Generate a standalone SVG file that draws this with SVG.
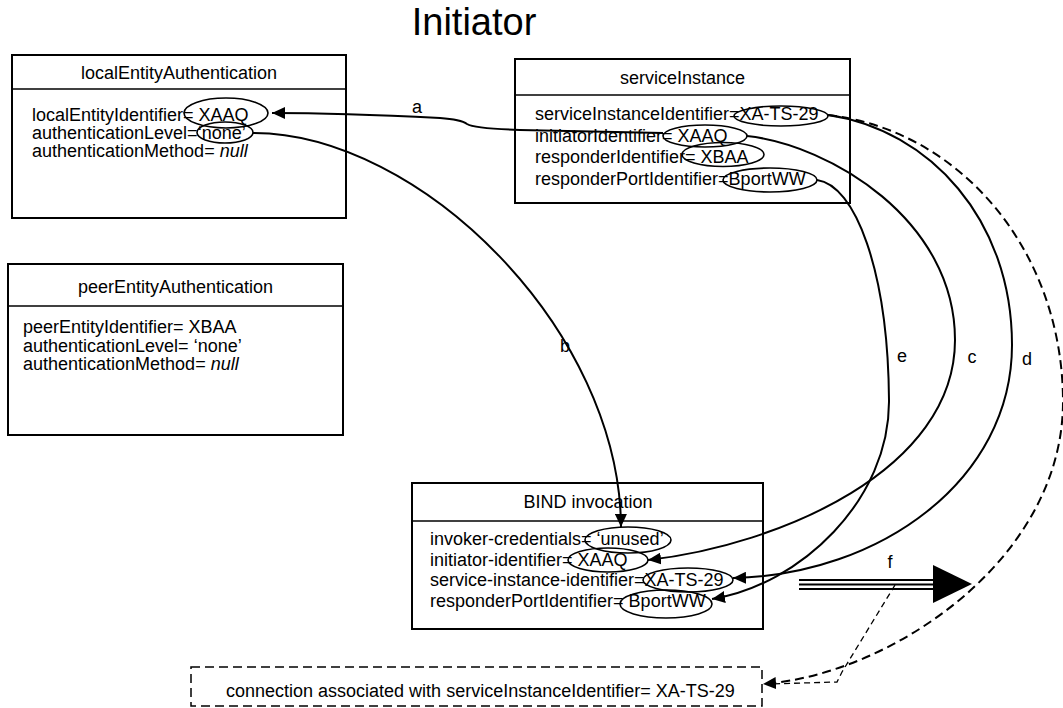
<svg xmlns="http://www.w3.org/2000/svg" width="1063" height="708" viewBox="0 0 1063 708">
<style>
.box{fill:#fff;stroke:#000;stroke-width:2}
.hdr{stroke:#000;stroke-width:1.3}
.t{font-family:"Liberation Sans",Arial,sans-serif;font-size:18px;fill:#000}
.m{text-anchor:middle}
.ov{fill:none;stroke:#000;stroke-width:1.6}
.conn{fill:none;stroke:#000;stroke-width:2}
.dash{stroke-dasharray:9 5}
.thin{fill:none;stroke:#000;stroke-width:1.3;stroke-dasharray:6 4}
</style>
<defs>
<marker id="ah" markerUnits="userSpaceOnUse" markerWidth="14" markerHeight="12" refX="13" refY="6" orient="auto">
<path d="M0,0 L13,6 L0,12 Z" fill="#000"/>
</marker>
</defs>
<rect width="1063" height="708" fill="#fff"/>
<text id="title" class="t m" x="474" y="35" style="font-size:38px">Initiator</text>

<g id="localEntityAuthentication">
<rect class="box" x="12" y="55" width="334" height="163"/>
<line class="hdr" x1="12" y1="89" x2="346" y2="89"/>
<text class="t m" x="179" y="79">localEntityAuthentication</text>
<text class="t" x="32" y="121">localEntityIdentifier= XAAQ</text>
<text class="t" x="32" y="139">authenticationLevel=‘none’</text>
<text class="t" x="32" y="157">authenticationMethod= <tspan font-style="italic">null</tspan></text>
<ellipse class="ov" cx="226" cy="113" rx="42" ry="15"/>
<ellipse class="ov" cx="225" cy="132.5" rx="28" ry="10.5"/>
</g>

<g id="serviceInstance">
<rect class="box" x="515" y="59" width="335" height="144"/>
<line class="hdr" x1="515" y1="95" x2="850" y2="95"/>
<text class="t m" x="682.5" y="84">serviceInstance</text>
<text class="t" x="535" y="120">serviceInstanceIdentifier=XA-TS-29</text>
<text class="t" x="535" y="141.5">initiatorIdentifier= XAAQ</text>
<text class="t" x="535" y="163">responderIdentifier= XBAA</text>
<text class="t" x="535" y="184.5">responderPortIdentifier=BportWW</text>
<ellipse class="ov" cx="781" cy="116" rx="47" ry="10"/>
<ellipse class="ov" cx="705" cy="136" rx="42" ry="11"/>
<ellipse class="ov" cx="723" cy="154.5" rx="41" ry="12"/>
<ellipse class="ov" cx="770" cy="180" rx="47" ry="12"/>
</g>

<g id="peerEntityAuthentication">
<rect class="box" x="8" y="264" width="335" height="171"/>
<line class="hdr" x1="8" y1="306" x2="343" y2="306"/>
<text class="t m" x="175.5" y="293">peerEntityAuthentication</text>
<text class="t" x="23" y="333">peerEntityIdentifier= XBAA</text>
<text class="t" x="23" y="351.5">authenticationLevel= ‘none’</text>
<text class="t" x="23" y="370">authenticationMethod= <tspan font-style="italic">null</tspan></text>
</g>

<g id="bindInvocation">
<rect class="box" x="412" y="483" width="351" height="146"/>
<line class="hdr" x1="412" y1="521" x2="763" y2="521"/>
<text class="t m" x="588" y="508">BIND invocation</text>
<text class="t" x="430" y="545">invoker-credentials= ‘unused’</text>
<text class="t" x="430" y="566">initiator-identifier= XAAQ</text>
<text class="t" x="430" y="586">service-instance-identifier=XA-TS-29</text>
<text class="t" x="430" y="607">responderPortIdentifier= BportWW</text>
<ellipse class="ov" cx="628" cy="540" rx="43" ry="13"/>
<ellipse class="ov" cx="608" cy="560" rx="40" ry="12"/>
<ellipse class="ov" cx="688" cy="580" rx="45" ry="12"/>
<ellipse class="ov" cx="666" cy="604" rx="46" ry="14"/>
</g>

<g id="connection">
<rect x="191" y="667" width="571" height="39" fill="#fff" stroke="#000" stroke-width="1.5" stroke-dasharray="9 5"/>
<text class="t" x="226" y="697">connection associated with serviceInstanceIdentifier= XA-TS-29</text>
</g>

<g id="connectors">
<path id="conn-a" class="conn" marker-end="url(#ah)" d="M663,133 L520,130 C490,129 472,127 467,124 C463,121 455,119 440,118 C380,115 320,113 272,113"/>
<path id="conn-b" class="conn" marker-end="url(#ah)" d="M253,133 C420,133 620,330 621,527"/>
<path id="conn-c" class="conn" marker-end="url(#ah)" d="M747,136 C830,145 955,220 955,340 C955,470 780,545 648,560"/>
<path id="conn-d" class="conn" marker-end="url(#ah)" d="M828,115 C930,130 1012,220 1012,345 C1012,480 880,575 733,578"/>
<path id="conn-e" class="conn" marker-end="url(#ah)" d="M817,180 C855,185 888,270 889,400 C890,500 800,585 712,599"/>
<path id="conn-dashed" class="conn dash" marker-end="url(#ah)" d="M828,115 C960,130 1062,250 1063,400 C1064,560 890,675 763,684"/>
<path id="conn-f-dashed" class="thin" d="M895,585 L842,672 L837,682 L768,684"/>
<g id="conn-f">
<line x1="799" y1="580" x2="934" y2="580" stroke="#000" stroke-width="2.2"/>
<line x1="799" y1="584.5" x2="934" y2="584.5" stroke="#000" stroke-width="2.2"/>
<line x1="799" y1="589" x2="934" y2="589" stroke="#000" stroke-width="2.2"/>
<path d="M933,565 L972,584 L933,603 Z" fill="#000"/>
</g>
<text class="t m" x="417" y="113">a</text>
<text class="t m" x="565" y="352">b</text>
<text class="t m" x="972" y="363">c</text>
<text class="t m" x="1027" y="365">d</text>
<text class="t m" x="902" y="362">e</text>
<text class="t m" x="890" y="568">f</text>
</g>
</svg>
